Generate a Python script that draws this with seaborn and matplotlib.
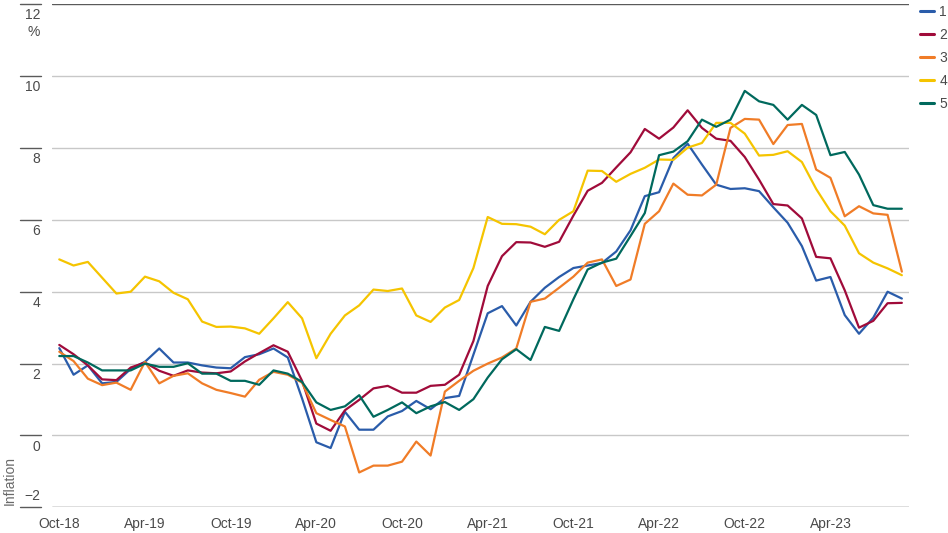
import numpy as np
import pandas as pd
import matplotlib
matplotlib.use("Agg")
import matplotlib.pyplot as plt
import matplotlib.transforms as mtransforms
import seaborn as sns

# months Oct-18 .. Sep-23 (60 points)
months = pd.period_range("2018-10", "2023-09", freq="M")

s1 = [2.43, 1.69, 1.95, 1.45, 1.49, 1.85, 2.05, 2.42, 2.03, 2.03,
      1.95, 1.89, 1.87, 2.18, 2.26, 2.42, 2.17, 1.03, -0.19, -0.35,
      0.66, 0.16, 0.16, 0.53, 0.68, 0.96, 0.73, 1.04, 1.10, 2.25,
      3.40, 3.60, 3.06, 3.72, 4.11, 4.41, 4.66, 4.73, 4.80, 5.12,
      5.71, 6.66, 6.77, 7.72, 8.12, 7.54, 6.98, 6.86, 6.88, 6.80,
      6.35, 5.92, 5.27, 4.31, 4.41, 3.35, 2.83, 3.28, 4.00, 3.81]
s2 = [2.52, 2.26, 1.95, 1.56, 1.54, 1.89, 2.03, 1.80, 1.66, 1.81,
      1.75, 1.73, 1.78, 2.06, 2.29, 2.51, 2.33, 1.52, 0.33, 0.13,
      0.70, 0.99, 1.31, 1.38, 1.19, 1.19, 1.38, 1.41, 1.69, 2.63,
      4.16, 4.99, 5.38, 5.37, 5.25, 5.39, 6.12, 6.81, 7.03, 7.46,
      7.88, 8.53, 8.26, 8.57, 9.05, 8.56, 8.26, 8.20, 7.75, 7.12,
      6.44, 6.40, 6.04, 4.97, 4.93, 4.04, 3.00, 3.19, 3.68, 3.69]
s3 = [2.33, 2.07, 1.58, 1.40, 1.47, 1.27, 2.05, 1.45, 1.66, 1.73,
      1.45, 1.27, 1.18, 1.08, 1.55, 1.77, 1.69, 1.47, 0.62, 0.43,
      0.25, -1.03, -0.84, -0.84, -0.73, -0.17, -0.56, 1.22, 1.52, 1.80,
      2.00, 2.17, 2.42, 3.72, 3.81, 4.11, 4.42, 4.81, 4.90, 4.16,
      4.34, 5.89, 6.24, 7.01, 6.70, 6.68, 6.98, 8.56, 8.81, 8.79,
      8.11, 8.64, 8.67, 7.40, 7.17, 6.10, 6.38, 6.18, 6.14, 4.56]
s4 = [4.90, 4.73, 4.83, 4.39, 3.95, 4.00, 4.42, 4.29, 3.97, 3.79,
      3.17, 3.02, 3.03, 2.98, 2.83, 3.26, 3.71, 3.26, 2.15, 2.83,
      3.34, 3.62, 4.06, 4.02, 4.09, 3.34, 3.16, 3.56, 3.77, 4.66,
      6.08, 5.89, 5.88, 5.81, 5.60, 6.00, 6.24, 7.37, 7.36, 7.06,
      7.28, 7.45, 7.68, 7.67, 8.01, 8.14, 8.70, 8.70, 8.40, 7.79,
      7.81, 7.91, 7.61, 6.86, 6.24, 5.84, 5.07, 4.81, 4.65, 4.46]
s5 = [2.21, 2.21, 2.03, 1.81, 1.81, 1.81, 2.00, 1.91, 1.91, 2.01,
      1.72, 1.72, 1.52, 1.52, 1.41, 1.81, 1.72, 1.49, 0.92, 0.71,
      0.81, 1.12, 0.52, 0.71, 0.92, 0.62, 0.81, 0.93, 0.71, 1.01,
      1.61, 2.12, 2.40, 2.10, 3.02, 2.91, 3.79, 4.62, 4.81, 4.92,
      5.55, 6.19, 7.80, 7.90, 8.19, 8.79, 8.59, 8.79, 9.59, 9.30,
      9.20, 8.79, 9.20, 8.92, 7.80, 7.89, 7.26, 6.41, 6.31, 6.31]

series_names = ["1", "2", "3", "4", "5"]
colors = ["#2a5caa", "#a00b3a", "#f07c27", "#f5c400", "#00695d"]
yticks = [-2, 0, 2, 4, 6, 8, 10, 12]
ytick_labels = ["\u22122", "0", "2", "4", "6", "8", "10", "12"]
xtick_pos = list(range(0, 60, 6))
xtick_labels = [m.strftime("%b-%y") for m in months[::6]]

df = pd.DataFrame({"month": np.arange(len(months))})
for name, vals in zip(series_names, [s1, s2, s3, s4, s5]):
    df[name] = vals
long = df.melt(id_vars="month", var_name="series", value_name="value")

sns.set_style("white")
plt.rcParams["font.family"] = ["Liberation Sans", "DejaVu Sans"]
fs = 10
txt = "#4a4a4a"

fig = plt.figure(figsize=(9.48, 5.33), dpi=100)
ax = fig.add_axes([52 / 948, 1 - 507.3 / 533, (909 - 52) / 948, (507.3 - 4.3) / 533])

sns.lineplot(data=long, x="month", y="value", hue="series", palette=colors,
             linewidth=1.6, ax=ax, legend=False)

ax.set_xlim(-0.51, 59.5)
ax.set_ylim(-2, 12)
for sp in ax.spines.values():
    sp.set_visible(False)

# grid lines, darker at top and bottom
for v in yticks:
    c = "#5a5a5a" if v in (-2, 12) else "#c8c8c8"
    ax.axhline(v, color=c, linewidth=1.0, zorder=0)

ax.set_yticks([])
ax.set_xticks(xtick_pos)
ax.set_xticklabels(xtick_labels, fontsize=fs, color=txt)
ax.tick_params(axis="x", length=0, pad=7)
ax.set_xlabel("")
ax.set_ylabel("")

# left tick marks and labels, outside the plot
trans = mtransforms.blended_transform_factory(fig.transFigure, ax.transData)
for v, lab in zip(yticks, ytick_labels):
    ax.plot([20 / 948, 41 / 948], [v, v], transform=trans, color="#5a5a5a",
            linewidth=1.0, clip_on=False)
    if v == -2:
        off, va = 3, "bottom"
    else:
        off, va = -3, "top"
    ax.annotate(lab, xy=(40 / 948, v), xycoords=trans, xytext=(0, off),
                textcoords="offset points", ha="right", va=va,
                fontsize=fs, color=txt, annotation_clip=False)
ax.annotate("%", xy=(40 / 948, 12), xycoords=trans, xytext=(0, -15),
            textcoords="offset points", ha="right", va="top",
            fontsize=fs, color=txt, annotation_clip=False)
fig.text(10 / 948, 1 - 505 / 533, "Inflation", rotation=90, ha="center",
         va="bottom", fontsize=fs, color="#6a6a6a")

handles = [plt.Line2D([], [], color=c, linewidth=2.2) for c in colors]
fig.legend(handles, series_names, loc="upper left",
           bbox_to_anchor=(920 / 948, 1 - 5 / 533), frameon=False,
           borderpad=0, borderaxespad=0,
           handlelength=1.0, handletextpad=0.4, labelspacing=0.65,
           fontsize=fs, labelcolor=txt)

fig.savefig("out.png", dpi=100)
